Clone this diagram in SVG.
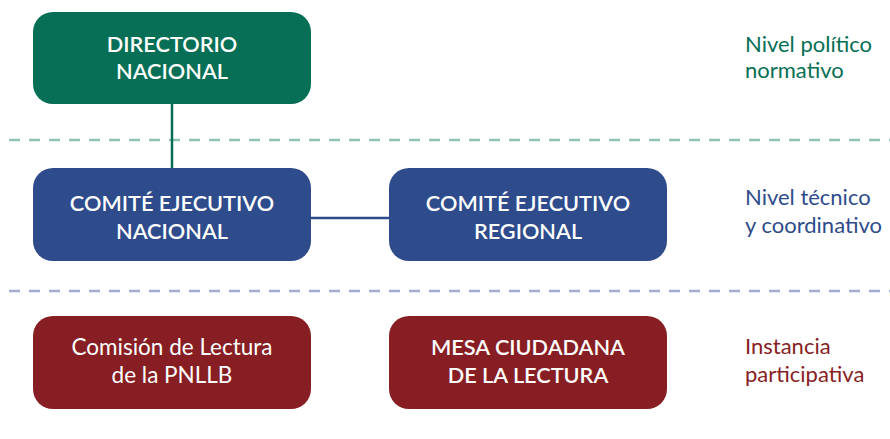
<svg xmlns="http://www.w3.org/2000/svg" width="890" height="439" viewBox="0 0 890 439">
<style>
.box{stroke:none}
.g{fill:#066f55}.b{fill:#2e4b8b}.r{fill:#871e23}
.t{font-family:Lato,"Open Sans",sans-serif;font-size:21.7px;fill:#fff;text-anchor:middle}
.bold{font-weight:600}
.reg{font-size:22.5px}
.lbl{font-family:Lato,"Open Sans",sans-serif;font-size:22px}
.sep{fill:none;stroke-width:2.5;stroke-dasharray:11 9}
</style>
<rect width="890" height="439" fill="#fff"/>
<g id="separators">
<line class="sep" x1="9" y1="140" x2="890" y2="140" stroke="#8fc4b0"/>
<line class="sep" x1="9" y1="291" x2="890" y2="291" stroke="#a3acd0"/>
</g>
<g id="connectors">
<line x1="172" y1="104" x2="172" y2="168" stroke="#066f55" stroke-width="2.5"/>
<line x1="311" y1="218" x2="389" y2="218" stroke="#2e4b8b" stroke-width="2.5"/>
</g>
<g id="directorio">
<rect class="box g" x="33" y="12" width="278" height="92" rx="20"/>
<text class="t bold" x="172" y="52">DIRECTORIO</text>
<text class="t bold" x="172" y="79">NACIONAL</text>
</g>
<g id="cen">
<rect class="box b" x="33" y="168" width="278" height="93" rx="20"/>
<text class="t bold" x="172" y="211">COMITÉ EJECUTIVO</text>
<text class="t bold" x="172" y="239">NACIONAL</text>
</g>
<g id="cer">
<rect class="box b" x="389" y="168" width="278" height="93" rx="20"/>
<text class="t bold" x="528" y="211">COMITÉ EJECUTIVO</text>
<text class="t bold" x="528" y="239">REGIONAL</text>
</g>
<g id="comision">
<rect class="box r" x="33" y="316" width="278" height="93" rx="20"/>
<text class="t reg" x="172" y="355">Comisión de Lectura</text>
<text class="t reg" x="172" y="383">de la PNLLB</text>
</g>
<g id="mesa">
<rect class="box r" x="389" y="316" width="278" height="93" rx="20"/>
<text class="t bold" x="528" y="355">MESA CIUDADANA</text>
<text class="t bold" x="528" y="383">DE LA LECTURA</text>
</g>
<g id="labels">
<text class="lbl" fill="#066f55" x="745" y="52">Nivel político</text>
<text class="lbl" fill="#066f55" x="745" y="78">normativo</text>
<text class="lbl" fill="#2e4b8b" x="745" y="205">Nivel técnico</text>
<text class="lbl" fill="#2e4b8b" x="745" y="233">y coordinativo</text>
<text class="lbl" fill="#871e23" x="745" y="354">Instancia</text>
<text class="lbl" fill="#871e23" x="745" y="382">participativa</text>
</g>
</svg>
